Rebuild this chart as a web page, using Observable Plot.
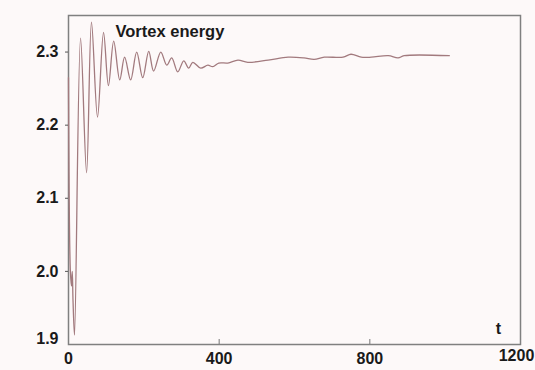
<!DOCTYPE html>
<html>
<head>
<meta charset="utf-8">
<script src="https://cdn.jsdelivr.net/npm/d3@7"></script>
<script src="https://cdn.jsdelivr.net/npm/@observablehq/plot@0.6"></script>
<style>
  html, body { margin: 0; padding: 0; background: #fdf9f9; }
  #chart svg { display: block; }
</style>
</head>
<body>
<div id="chart"></div>
<script>
// Vortex energy as a function of time t
const time = [0, 5, 8, 10, 12, 16, 32, 48, 61, 77, 93, 106, 120, 136, 149, 165, 181, 197, 213, 226,
  245, 261, 274, 290, 306, 319, 330, 351, 370, 383, 399, 423, 450, 476, 530, 583, 625, 652, 679,
  729, 750, 777, 804, 849, 875, 891, 1011];
const energy = [2.265, 2.0, 1.98, 2.0, 1.96, 1.913, 2.319, 2.135, 2.341, 2.211, 2.327, 2.254, 2.315, 2.262,
  2.293, 2.262, 2.300, 2.265, 2.301, 2.274, 2.300, 2.282, 2.292, 2.273, 2.288, 2.278, 2.286, 2.278,
  2.282, 2.280, 2.285, 2.285, 2.289, 2.286, 2.289, 2.293, 2.292, 2.290, 2.293, 2.293, 2.297, 2.293,
  2.293, 2.295, 2.292, 2.295, 2.295];

const xTicks = [0, 400, 800, 1200];
const yTicks = [1.9, 2.0, 2.1, 2.2, 2.3];
const title = "Vortex energy";
const xLabel = "t";

const series = time.map((t, i) => ({t, e: energy[i]}));
const font = "'Liberation Sans', Arial, sans-serif";
const tickText = {fontSize: 16, fontWeight: "bold", label: null};

const chart = Plot.plot({
  width: 535,
  height: 370,
  marginLeft: 68,
  marginRight: 15,
  marginTop: 15,
  marginBottom: 26,
  style: {background: "#fdf9f9", fontFamily: font, color: "#1a1a1a"},
  x: {domain: [0, 1200], label: null},
  y: {domain: [1.9, 2.35], label: null},
  marks: [
    Plot.frame({stroke: "#808080", strokeWidth: 1.5}),
    // inward ticks on the t axis
    Plot.tickX(xTicks.slice(1, -1), {x: d => d, insetTop: 324, stroke: "#777", strokeWidth: 1}),
    Plot.axisX(xTicks.slice(0, -1), {...tickText, tickSize: 0, tickPadding: 8, tickFormat: d => String(d)}),
    // last t label sits a little left and up, clear of the page edge
    Plot.axisX(xTicks.slice(-1), {...tickText, tickSize: 0, tickPadding: 8, dx: -4, dy: -3, tickFormat: d => String(d)}),
    Plot.axisY(yTicks.filter(d => d > 1.9), {...tickText, tickSize: 3, tickPadding: 7, tickFormat: d => d.toFixed(1), stroke: "#555"}),
    Plot.axisY([1.9], {...tickText, tickSize: 0, tickPadding: 10, dy: -6, tickFormat: d => d.toFixed(1)}),
    Plot.line(series, {x: "t", y: "e", curve: "catmull-rom", stroke: "#a27a7e", strokeWidth: 1.3}),
    Plot.text([title], {frameAnchor: "top-left", dx: 47, dy: 10, lineAnchor: "top", textAnchor: "start",
      fontSize: 16.5, fontWeight: "bold", fill: "#1a1a1a"}),
    Plot.text([xLabel], {frameAnchor: "bottom-right", dx: -22, dy: -16, lineAnchor: "middle", textAnchor: "middle",
      fontSize: 16, fontWeight: "bold", fill: "#1a1a1a"})
  ]
});
document.getElementById("chart").append(chart);
</script>
</body>
</html>
